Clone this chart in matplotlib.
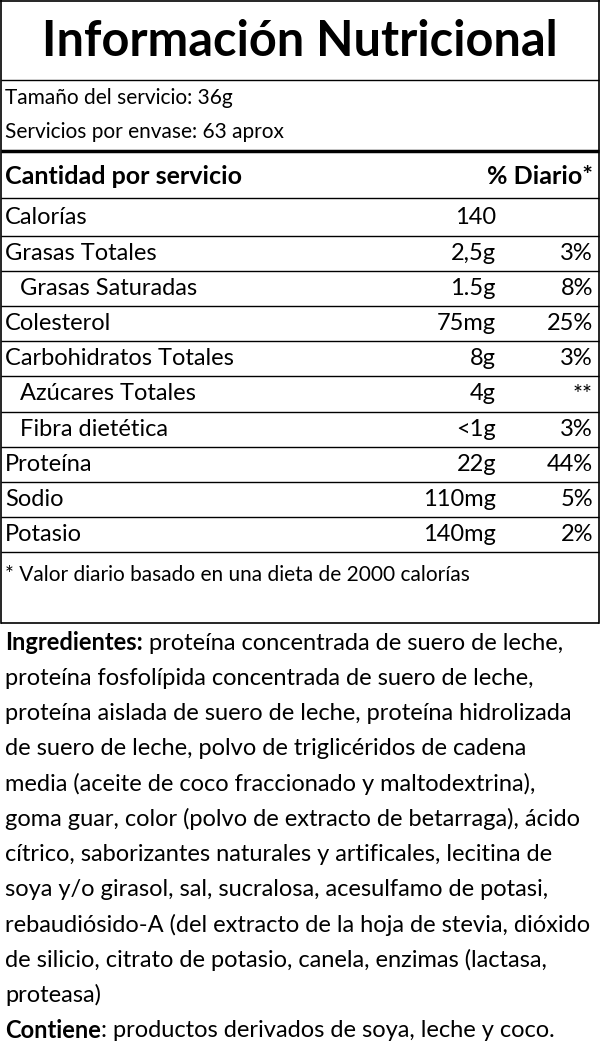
import matplotlib
matplotlib.use("Agg")
import matplotlib.pyplot as plt

title = "Información Nutricional"
serving_lines = ["Tamaño del servicio: 36g", "Servicios por envase: 63 aprox"]
nutrients = ["Calorías", "Grasas Totales", "Grasas Saturadas", "Colesterol",
             "Carbohidratos Totales", "Azúcares Totales", "Fibra dietética",
             "Proteína", "Sodio", "Potasio"]
indented = [False, False, True, False, False, True, True, False, False, False]
amounts = ["140", "2,5g", "1.5g", "75mg", "8g", "4g", "<1g", "22g", "110mg", "140mg"]
daily = ["", "3%", "8%", "25%", "3%", "**", "3%", "44%", "5%", "2%"]
footnote = "* Valor diario basado en una dieta de 2000 calorías"
ingredient_lines = [
    ("Ingredientes:", " proteína concentrada de suero de leche,"),
    ("", "proteína fosfolípida concentrada de suero de leche,"),
    ("", "proteína aislada de suero de leche, proteína hidrolizada"),
    ("", "de suero de leche, polvo de triglicéridos de cadena"),
    ("", "media (aceite de coco fraccionado y maltodextrina),"),
    ("", "goma guar, color (polvo de extracto de betarraga), ácido"),
    ("", "cítrico, saborizantes naturales y artificales, lecitina de"),
    ("", "soya y/o girasol, sal, sucralosa, acesulfamo de potasi,"),
    ("", "rebaudiósido-A (del extracto de la hoja de stevia, dióxido"),
    ("", "de silicio, citrato de potasio, canela, enzimas (lactasa,"),
    ("", "proteasa)"),
    ("Contiene", ": productos derivados de soya, leche y coco."),
]

FONT = "Lato"
FS = 17
fig = plt.figure(figsize=(6, 10.55), dpi=100)
ax = fig.add_axes([0, 0, 1, 1])
ax.set_xlim(0, 600)
ax.set_ylim(1055, 0)
ax.axis("off")

def hline(y, lw=1.0):
    ax.plot([1, 599], [y, y], color="black", lw=lw, solid_capstyle="butt")

ax.plot([1, 1], [0, 623], color="black", lw=1.2)
ax.plot([599, 599], [0, 623], color="black", lw=1.2)
ax.plot([1, 599], [0.5, 0.5], color="black", lw=1.2)
hline(623, 1.2)

ax.text(300, 42, title, ha="center", va="center", fontsize=35, fontweight="bold", family=FONT)
hline(80)
for i, s in enumerate(serving_lines):
    ax.text(5, 98 + i * 34, s, ha="left", va="center", fontsize=15, family=FONT)
hline(151, 2.5)
ax.text(5, 177, "Cantidad por servicio", ha="left", va="center", fontsize=18, fontweight="bold", family=FONT)
ax.text(593, 177, "% Diario*", ha="right", va="center", fontsize=18, fontweight="bold", family=FONT)
hline(198)
y0, dy = 218, 35.2
for i, n in enumerate(nutrients):
    y = y0 + i * dy
    ax.text(20 if indented[i] else 5, y, n, ha="left", va="center", fontsize=FS, family=FONT)
    ax.text(496, y, amounts[i], ha="right", va="center", fontsize=FS, family=FONT)
    ax.text(593, y, daily[i], ha="right", va="center", fontsize=FS, family=FONT)
    hline(y + dy / 2)
ax.text(5, 575, footnote, ha="left", va="center", fontsize=15, family=FONT)

for i, (b, r) in enumerate(ingredient_lines):
    y = 643 + i * 35.2
    t = ax.text(5, y, b, ha="left", va="center", fontsize=FS, fontweight="bold", family=FONT)
    if b:
        fig.canvas.draw()
        x = t.get_window_extent().x1
    else:
        x = 5
    ax.text(x, y, r, ha="left", va="center", fontsize=FS, family=FONT)

fig.savefig("out.png", dpi=100)
